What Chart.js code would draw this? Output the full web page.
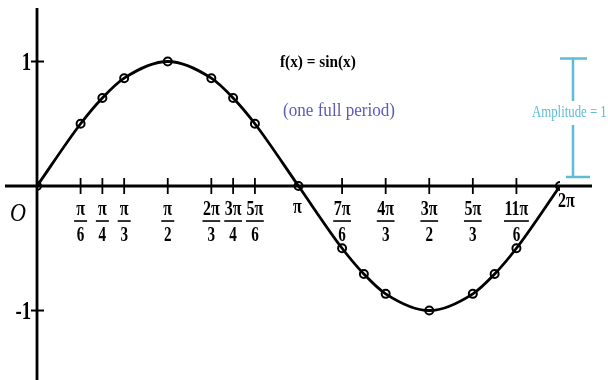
<!DOCTYPE html>
<html lang="en">
<head>
  <meta charset="UTF-8" />
  <title>f(x) = sin(x)</title>
  <script src="https://cdn.jsdelivr.net/npm/chart.js"></script>
  <style>
    html, body { margin: 0; padding: 0; background: #fff; }
    #wrap { width: 608px; height: 380px; }
  </style>
</head>
<body>
  <div id="wrap"><canvas id="sineChart" width="608" height="380"></canvas></div>

  <script>
    const PI = Math.PI;

    // marked angles (in units of pi) and sin values at them
    const anglesPi = [0, 1/6, 1/4, 1/3, 1/2, 2/3, 3/4, 5/6, 1, 7/6, 5/4, 4/3, 3/2, 5/3, 7/4, 11/6, 2];
    const sinValues = [0, 0.5, 0.707, 0.866, 1, 0.866, 0.707, 0.5, 0, -0.5, -0.707, -0.866, -1, -0.866, -0.707, -0.5, 0];

    // x-axis tick labels as fractions
    const tickPi = [1/6, 1/4, 1/3, 1/2, 2/3, 3/4, 5/6, 7/6, 4/3, 3/2, 5/3, 11/6];
    const tickNum = ["π", "π", "π", "π", "2π", "3π", "5π", "7π", "4π", "3π", "5π", "11π"];
    const tickDen = ["6", "4", "3", "2", "3", "4", "6", "6", "3", "2", "3", "6"];

    const yTicks = [1, -1];
    const yTickLabels = ["1", "-1"];

    const points = anglesPi.map((a, i) => ({ x: a * PI, y: sinValues[i] }));

    const serif = "'Liberation Serif', 'DejaVu Serif', serif";

    // draw text squeezed horizontally (old print look)
    function squeezed(ctx, text, x, y, sx) {
      ctx.save();
      ctx.translate(x, y);
      ctx.scale(sx, 1);
      ctx.fillText(text, 0, 0);
      ctx.restore();
    }

    const axesPlugin = {
      id: "handAxes",
      afterDatasetsDraw(chart) {
        const ctx = chart.ctx;
        const xs = chart.scales.x;
        const ys = chart.scales.y;
        const y0 = ys.getPixelForValue(0);
        const x0 = xs.getPixelForValue(0);

        ctx.save();
        ctx.strokeStyle = "#000";
        ctx.fillStyle = "#000";
        ctx.lineCap = "butt";

        // axes
        ctx.lineWidth = 3.2;
        ctx.beginPath();
        ctx.moveTo(5, y0);
        ctx.lineTo(592, y0);
        ctx.stroke();
        ctx.lineWidth = 2.8;
        ctx.beginPath();
        ctx.moveTo(x0, 8);
        ctx.lineTo(x0, 380);
        ctx.stroke();

        // x ticks + fraction labels
        ctx.textAlign = "center";
        ctx.textBaseline = "middle";
        tickPi.forEach((t, i) => {
          const px = xs.getPixelForValue(t * PI);
          ctx.lineWidth = 1.8;
          ctx.beginPath();
          ctx.moveTo(px, y0 - 8);
          ctx.lineTo(px, y0 + 8);
          ctx.stroke();

          ctx.font = "bold 20px " + serif;
          const w = Math.max(ctx.measureText(tickNum[i]).width * 0.8, 12) + 1;
          squeezed(ctx, tickNum[i], px, y0 + 24, 0.8);
          ctx.lineWidth = 1.6;
          ctx.beginPath();
          ctx.moveTo(px - w / 2, y0 + 35);
          ctx.lineTo(px + w / 2, y0 + 35);
          ctx.stroke();
          ctx.font = "bold 21px " + serif;
          squeezed(ctx, tickDen[i], px, y0 + 50, 0.72);
        });

        // pi and 2pi labels
        ctx.font = "bold 20px " + serif;
        squeezed(ctx, "π", xs.getPixelForValue(PI) - 1, y0 + 22, 0.8);
        ctx.textAlign = "left";
        squeezed(ctx, "2π", xs.getPixelForValue(2 * PI) - 2, y0 + 16, 0.8);

        // origin
        ctx.textAlign = "center";
        ctx.font = "italic 26px " + serif;
        squeezed(ctx, "O", x0 - 19, y0 + 28, 0.85);

        // y ticks
        yTicks.forEach((v, i) => {
          const py = ys.getPixelForValue(v);
          ctx.lineWidth = 2;
          ctx.beginPath();
          ctx.moveTo(x0 - 6, py);
          ctx.lineTo(x0 + 7, py);
          ctx.stroke();
          ctx.textAlign = "right";
          ctx.font = "bold 26px " + serif;
          squeezed(ctx, yTickLabels[i], x0 - 6, py + 2, 0.72);
        });

        // titles
        ctx.textAlign = "left";
        ctx.font = "bold 17px " + serif;
        squeezed(ctx, "f(x) = sin(x)", 280, 63, 0.9);
        ctx.fillStyle = "#5a5ab8";
        ctx.font = "18px " + serif;
        squeezed(ctx, "(one full period)", 283, 111, 0.95);

        // amplitude bracket
        const yTop = ys.getPixelForValue(1) - 3;
        const bx = 573;
        ctx.strokeStyle = "#5fbcd3";
        ctx.lineWidth = 2.5;
        ctx.beginPath();
        ctx.moveTo(bx, yTop);
        ctx.lineTo(bx, 101);
        ctx.moveTo(bx, 125);
        ctx.lineTo(bx, y0 - 9);
        ctx.moveTo(560, yTop);
        ctx.lineTo(587, yTop);
        ctx.moveTo(566, y0 - 9);
        ctx.lineTo(590, y0 - 9);
        ctx.stroke();
        ctx.fillStyle = "#5fbcd3";
        ctx.font = "16px " + serif;
        ctx.textAlign = "left";
        squeezed(ctx, "Amplitude = 1", 532, 113, 0.8);

        ctx.restore();
      }
    };

    const whiteBg = {
      id: "whiteBg",
      beforeDraw(chart) {
        const ctx = chart.ctx;
        ctx.save();
        ctx.fillStyle = "#fff";
        ctx.fillRect(0, 0, chart.width, chart.height);
        ctx.restore();
      }
    };

    new Chart(document.getElementById("sineChart"), {
      type: "line",
      data: {
        datasets: [{
          data: points,
          borderColor: "#000",
          borderWidth: 2.8,
          cubicInterpolationMode: "monotone",
          pointRadius: 4,
          pointBorderWidth: 2,
          pointBorderColor: "#000",
          pointBackgroundColor: "rgba(0,0,0,0)",
          fill: false
        }]
      },
      options: {
        responsive: false,
        animation: false,
        layout: { autoPadding: false, padding: { left: 37, right: 48, top: 0, bottom: 0 } },
        plugins: { legend: { display: false }, tooltip: { enabled: false } },
        scales: {
          x: { type: "linear", min: 0, max: 2 * PI, display: false },
          y: { min: -1.558, max: 1.494, display: false }
        }
      },
      plugins: [whiteBg, axesPlugin]
    });
  </script>
</body>
</html>
